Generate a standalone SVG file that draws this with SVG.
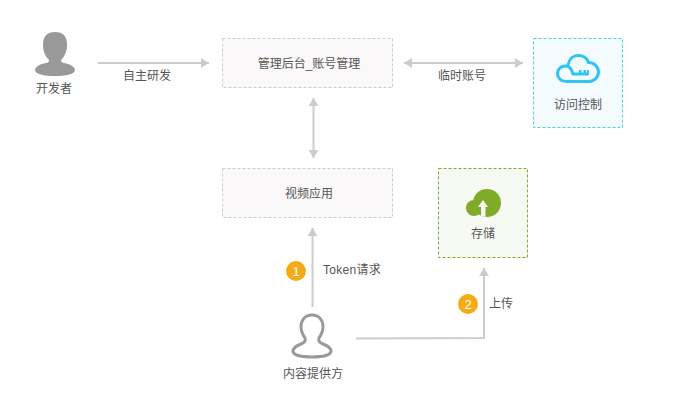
<svg xmlns="http://www.w3.org/2000/svg" width="695" height="414" viewBox="0 0 695 414">
<style>
text{font-family:"Liberation Sans","Noto Sans CJK SC",sans-serif;font-size:12px;fill:#555;text-anchor:middle}
.conn{fill:none;stroke:#ccc;stroke-width:2}
.head{fill:#ccc;stroke:none}
.box{fill:#faf8f8;stroke:#ccc;stroke-dasharray:3 2}
.badge{fill:#f5ab16}
.num{fill:#fff;font-size:13px}
.cloud{fill:none;stroke:#2fc4f5;stroke-width:3}
</style>
<defs>
<marker id="arr" viewBox="0 0 8 10" refX="8" refY="5" markerWidth="8" markerHeight="10" markerUnits="userSpaceOnUse" orient="auto-start-reverse"><path class="head" d="M0 0L8 5L0 10Z"/></marker>
</defs>
<rect width="695" height="414" fill="#fff"/>
<g id="connectors">
<path class="conn" d="M98 63H209" marker-end="url(#arr)"/>
<path class="conn" d="M404 63H523" marker-start="url(#arr)" marker-end="url(#arr)"/>
<path class="conn" d="M313.500 98V158" marker-start="url(#arr)" marker-end="url(#arr)"/>
<path class="conn" d="M312.500 307V228" marker-end="url(#arr)"/>
<path class="conn" d="M356 338.500L484 338V268" marker-end="url(#arr)"/>
<text x="147" y="79.500">自主研发</text>
<text x="462" y="79.500">临时账号</text>
<text x="352" y="273.500" letter-spacing="0.25">Token请求</text>
<text x="501" y="307.500">上传</text>
<circle class="badge" cx="296" cy="271" r="10"/><text class="num" x="296" y="275.500">1</text>
<circle class="badge" cx="468" cy="304" r="10"/><text class="num" x="468" y="308.500">2</text>
</g>
<g id="developer">
<path fill="#999" d="M55 32C63 32 67 36 67 45C67 52 64 57 61 60C61 62 62 63 64 63C70 64 75 67 75 70C75 74 66 76 55 76C44 76 35 74 35 70C35 67 40 64 46 63C48 63 49 62 49 60C46 57 43 52 43 45C43 36 47 32 55 32Z"/>
<text x="54" y="92.500">开发者</text>
</g>
<g id="admin"><rect class="box" x="222.500" y="38.500" width="170" height="49"/><text x="309" y="67.500">管理后台_账号管理</text></g>
<g id="access">
<rect x="533.500" y="38.500" width="89" height="89" fill="#f3fbfe" stroke="#4fcfe0" stroke-dasharray="3 2"/>
<path class="cloud" d="M568 65C569 59 573 55.500 578 55.500C583 55.500 587 58 588.500 62.500C594 62.500 598.500 67 598.500 72C598.500 77.500 594 81.500 588 81.500H566C561 81.500 557.500 78 557.500 73.500C557.500 69 561 66 565.500 66C569 66 570.500 68 571.500 70L573 74H588"/>
<path fill="#2fc4f5" d="M587 70H589V75H587ZM579 70H581.500V74H579ZM583.500 70H586V74H583.500Z"/>
<text x="578" y="108.500">访问控制</text>
</g>
<g id="video"><rect class="box" x="222.500" y="168.500" width="170" height="49"/><text x="309" y="197.500">视频应用</text></g>
<g id="storage">
<rect x="438.500" y="168.500" width="89" height="89" fill="#f7faf3" stroke="#7fab28" stroke-dasharray="3 2"/>
<circle cx="487" cy="203" r="14" fill="#7fab28"/><circle cx="474" cy="208" r="8" fill="#7fab28"/>
<path fill="#f7faf3" d="M483 200L488 207H485.500V217L481 216V207H478Z"/>
<text x="483" y="237.500">存储</text>
</g>
<g id="provider">
<path fill="none" stroke="#999" stroke-width="3" d="M312 315C319 315 323 320 323 327C323 332 321 335 319 338C318 341 320 343 323 344C328 346 331 349 331 351C331 355 323 357 312 357C301 357 293 355 293 351C293 349 296 346 301 344C304 343 306 341 305 338C303 335 301 332 301 327C301 320 305 315 312 315Z"/>
<text x="313" y="377.500">内容提供方</text>
</g>
</svg>
